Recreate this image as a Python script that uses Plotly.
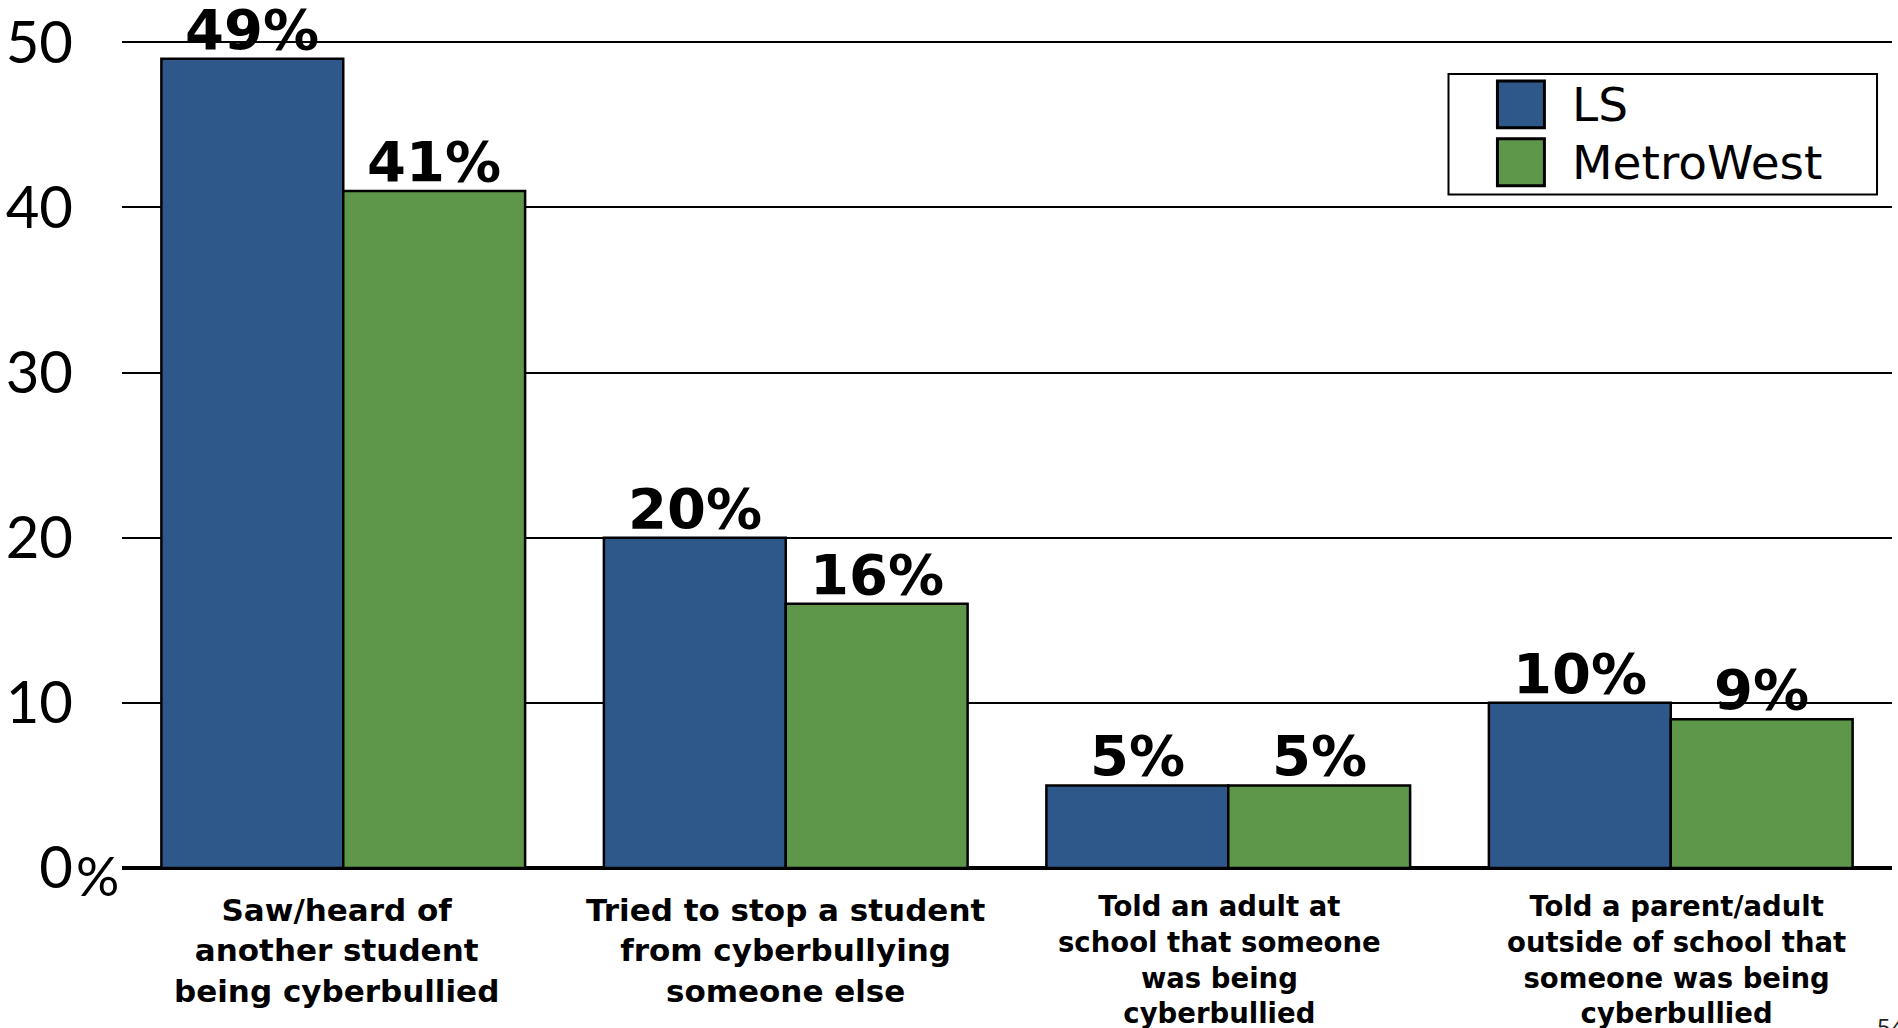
import plotly.graph_objects as go

# ---- data ----
categories = [
    "Saw/heard of<br>another student<br>being cyberbullied",
    "Tried to stop a student<br>from cyberbullying<br>someone else",
    "Told an adult at<br>school that someone<br>was being<br>cyberbullied",
    "Told a parent/adult<br>outside of school that<br>someone was being<br>cyberbullied",
]
ls_values = [49, 20, 5, 10]
metrowest_values = [41, 16, 5, 9]
series_names = ["LS", "MetroWest"]
y_ticks = [0, 10, 20, 30, 40, 50]
y_tick_text = ["0", "10", "20", "30", "40", "50"]

# ---- styling ----
W, H = 1898, 1028
ML, MR, MT, MB = 120, 6, 37, 160
BLUE = "#2E588A"
GREEN = "#5E974A"
BAR_FONT = "DejaVu Sans"
TICK_FONT = "Lato"
BARGAP = 0.178
label_font_sizes = [31, 31, 27.5, 27.5]
label_xshifts = [-7, 0, -9, 6]
label_yshifts = [-22, -22, -20, -20]

plot_w = W - ML - MR
plot_h = H - MT - MB
# pixel width of one bar inside a group of two
bar_px = plot_w / len(categories) * (1 - BARGAP) / 2


def px_x(px):
    return (px - ML) / plot_w


def px_y(py):
    return (H - MB - py) / plot_h


fig = go.Figure()
series = [
    (series_names[0], ls_values, BLUE),
    (series_names[1], metrowest_values, GREEN),
]
for name, vals, color in series:
    fig.add_trace(go.Bar(
        name=name,
        x=categories,
        y=vals,
        marker=dict(color=color, line=dict(color="black", width=2.5)),
        showlegend=False,
    ))

# value labels above each bar
for i, (name, vals, color) in enumerate(series):
    for cat, v in zip(categories, vals):
        fig.add_annotation(
            x=cat, xref="x", y=v, yref="y",
            xanchor="center", yanchor="bottom",
            xshift=(i - 0.5) * bar_px, yshift=-5,
            text=f"{v}%", showarrow=False,
            font=dict(family=BAR_FONT, size=56, color="black", weight="bold"),
        )

# category labels under each group
for cat, fs, dx, dy in zip(categories, label_font_sizes, label_xshifts, label_yshifts):
    fig.add_annotation(
        x=cat, xref="x", y=0, yref="paper",
        yanchor="top", xanchor="center", xshift=dx, yshift=dy,
        text=cat, showarrow=False, align="center",
        font=dict(family=BAR_FONT, size=fs, color="black", weight="bold"),
    )

# percent sign next to the zero tick
fig.add_annotation(
    x=0, xref="paper", y=0, yref="y", xanchor="right", yanchor="middle",
    yshift=-7, xshift=-1, text="%", showarrow=False,
    font=dict(family=TICK_FONT, size=54, color="black"),
)

# legend box
fig.add_shape(type="rect", xref="paper", yref="paper",
              x0=px_x(1448), x1=px_x(1877), y0=px_y(193), y1=px_y(72),
              line=dict(color="black", width=2), fillcolor="white", layer="above")
for i, (name, vals, color) in enumerate(series):
    top = 79 + i * 58
    fig.add_shape(type="rect", xref="paper", yref="paper",
                  x0=px_x(1497), x1=px_x(1544), y0=px_y(top + 47), y1=px_y(top),
                  line=dict(color="black", width=3), fillcolor=color, layer="above")
    fig.add_annotation(
        x=px_x(1570), xref="paper", y=px_y(top + 23.5), yref="paper",
        xanchor="left", yanchor="middle", text=name, showarrow=False,
        font=dict(family=BAR_FONT, size=47, color="black"),
    )

# slide number
fig.add_annotation(
    x=px_x(1875), xref="paper", y=px_y(1008), yref="paper",
    xanchor="left", yanchor="top", text="54", showarrow=False,
    font=dict(family="Open Sans", size=24, color="#222"),
)

fig.update_layout(
    width=W, height=H,
    margin=dict(l=ML, r=MR, t=MT, b=MB, pad=0),
    paper_bgcolor="white", plot_bgcolor="white",
    barmode="group", bargap=BARGAP, bargroupgap=0,
    xaxis=dict(showticklabels=False, showgrid=False, zeroline=False,
               showline=False, ticks=""),
    yaxis=dict(range=[0, 50.2], tickvals=y_ticks, ticktext=y_tick_text,
               showgrid=True, gridcolor="black", gridwidth=2,
               zeroline=True, zerolinecolor="black", zerolinewidth=4,
               showline=False, ticks="", ticklabelstandoff=48,
               tickfont=dict(family=TICK_FONT, size=58, color="black")),
)

fig.write_html("out.html")
